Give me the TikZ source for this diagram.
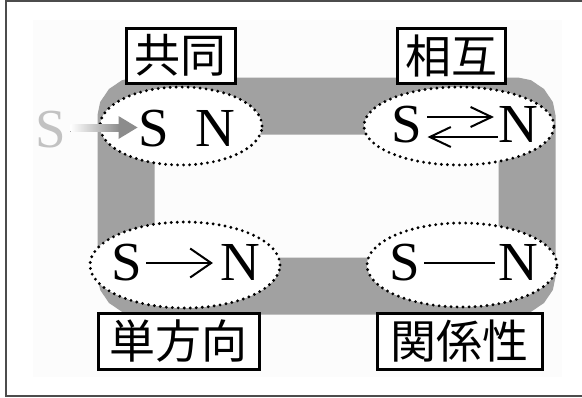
\documentclass[tikz,border=0pt]{standalone}
\usepackage{fontspec}
\setmainfont{Liberation Serif}
\newfontfamily\jpfont{Noto Sans CJK JP}
\usetikzlibrary{shapes.geometric,arrows.meta,calc}
\definecolor{band}{gray}{0.63}
\definecolor{frameline}{gray}{0.3}
\definecolor{ghost}{gray}{0.76}
\definecolor{ghostarrow}{gray}{0.55}
\definecolor{panel}{gray}{0.988}
\tikzset{
  ring/.style={draw=band, line width=57pt, rounded corners=12pt},
  pairbox/.style={ellipse, fill=white, draw=black, line width=3.2pt,
    dash pattern=on 0pt off 6pt, line cap=round, inner sep=0pt},
  tag/.style={rectangle, fill=white, draw=black, line width=3pt, inner sep=0pt,
    font=\jpfont\fontsize{46}{46}\selectfont},
  pole/.style={inner sep=0pt, text height=38pt, text depth=0pt, anchor=base,
    font=\fontsize{55}{55}\selectfont},
  link/.style={line width=2pt},
  barb/.style={-{Straight Barb[length=21pt,width=#1,line width=2pt]}},
}
\begin{document}
\begin{tikzpicture}[x=1pt,y=-1pt]
\useasboundingbox (0,0) rectangle (582,397);
% faint backing panel and the open frame
\fill[panel] (33,20) rectangle (562,377);
\draw[frameline, line width=2pt] (582,1) -- (6,1) -- (6,396) -- (582,396);

% grey loop joining the four states
\draw[ring] (126,106) rectangle (527,286);

% dotted ellipses holding each pair
\node[pairbox, minimum width=162pt, minimum height=78pt] (e1) at (181,126) {};
\node[pairbox, minimum width=190pt, minimum height=78pt] (e2) at (459,126) {};
\node[pairbox, minimum width=190pt, minimum height=86pt] (e3) at (185,265) {};
\node[pairbox, minimum width=190pt, minimum height=84pt] (e4) at (462,265) {};

% labels
\node[tag, minimum width=109pt, minimum height=55pt] (t1) at (180.5,55.5) {共同};
\node[tag, minimum width=108pt, minimum height=55pt] (t2) at (451,55.5) {相互};
\node[tag, minimum width=161pt, minimum height=56pt] (t3) at (178.5,341) {単方向};
\node[tag, minimum width=165pt, minimum height=56pt] (t4) at (459.5,341) {関係性};

% poles
\node[pole, text=ghost] (g) at (51,147) {S};
\node[pole] (s1) at (154,146) {S};
\node[pole] (n1) at (215,146) {N};
\node[pole] (s2) at (407,142) {S};
\node[pole] (n2) at (518,142) {N};
\node[pole] (s3) at (127,280) {S};
\node[pole] (n3) at (240,280) {N};
\node[pole] (s4) at (405,280) {S};
\node[pole] (n4) at (518,280) {N};

% incoming grey arrow
\fill[left color=white, right color=ghostarrow]
  ($(g.east)+(4,-3.5)$) rectangle ($(s1.west)+(-19,4.5)$);
\fill[ghostarrow] ($(s1.west)+(-20,-11)$) -- ($(s1.west)+(-1,0.5)$)
  -- ($(s1.west)+(-20,12)$) -- cycle;

% relations between the poles
\draw[link, barb=20pt] ([xshift=5pt,yshift=6pt]s2.east) -- ([xshift=-4pt,yshift=6pt]n2.west);
\draw[link, barb=20pt] ([xshift=0pt,yshift=-14pt]n2.west) -- ([xshift=5pt,yshift=-14pt]s2.east);
\draw[link, barb=29pt] ([xshift=4pt,yshift=-2pt]s3.east) -- ([xshift=-7pt,yshift=-2pt]n3.west);
\draw[link] ([xshift=4pt,yshift=-2pt]s4.east) -- ([xshift=-3pt,yshift=-2pt]n4.west);
\end{tikzpicture}
\end{document}
